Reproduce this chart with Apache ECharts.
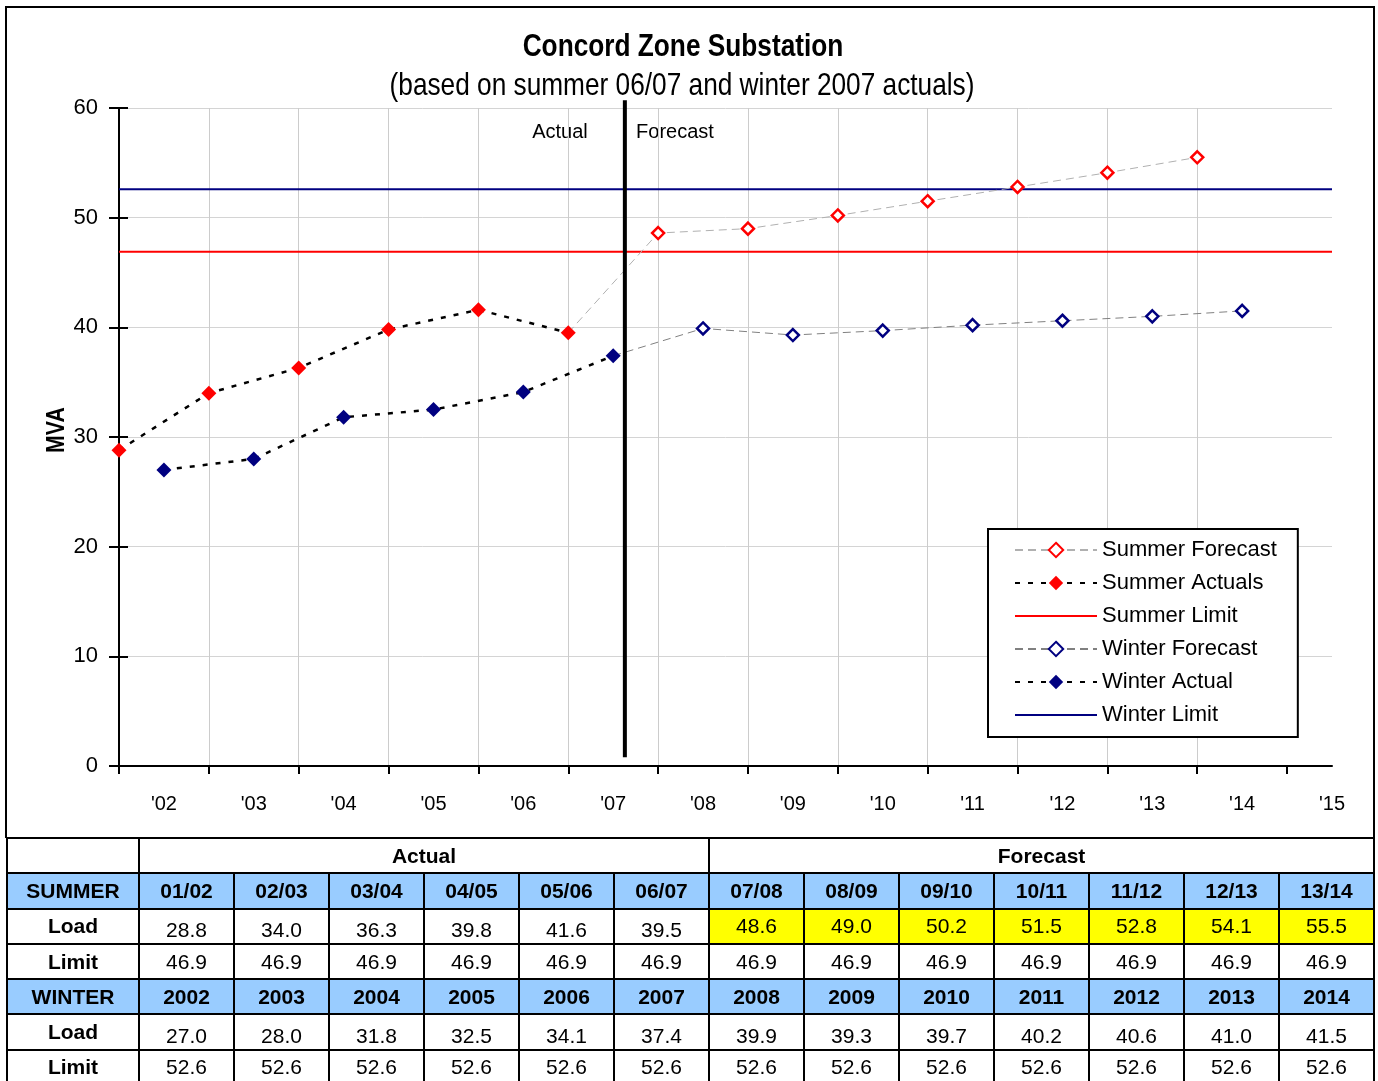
<!DOCTYPE html>
<html><head><meta charset="utf-8">
<script src="https://cdn.jsdelivr.net/npm/echarts@6/dist/echarts.min.js"></script>
<style>
html,body{margin:0;padding:0;width:1378px;height:1081px;overflow:hidden;background:#fff;}
#chart{position:absolute;left:0;top:0;width:1378px;height:838px;}
#tbl{position:absolute;left:6px;top:837px;border-collapse:collapse;table-layout:fixed;width:1369px;font-family:'Liberation Sans',Arial,sans-serif;font-size:21px;color:#000;}
#tbl td{border:2px solid #000;padding:0;text-align:center;height:33.3px;white-space:nowrap;}
#tbl td.b{font-weight:bold;}
#tbl td.hdr{background:#99CCFF;}
#tbl td.yel{background:#FFFF00;}
#tbl span.low{position:relative;top:4px;}
</style></head><body>
<div id="chart"></div>
<table id="tbl"></table>
<script>
const SANS = "'Liberation Sans',Arial,sans-serif";
const NARROW_SCALE = 0.82;

// ---- data ----
const chartTitle = 'Concord Zone Substation';
const chartSubtitle = '(based on summer 06/07 and winter 2007 actuals)';
const summerSeasons = ['01/02','02/03','03/04','04/05','05/06','06/07','07/08','08/09','09/10','10/11','11/12','12/13','13/14'];
const summerLoad = [28.8,34.0,36.3,39.8,41.6,39.5,48.6,49.0,50.2,51.5,52.8,54.1,55.5];
const summerLimit = [46.9,46.9,46.9,46.9,46.9,46.9,46.9,46.9,46.9,46.9,46.9,46.9,46.9];
const winterYears = [2002,2003,2004,2005,2006,2007,2008,2009,2010,2011,2012,2013,2014];
const winterLoad = [27.0,28.0,31.8,32.5,34.1,37.4,39.9,39.3,39.7,40.2,40.6,41.0,41.5];
const winterLimit = [52.6,52.6,52.6,52.6,52.6,52.6,52.6,52.6,52.6,52.6,52.6,52.6,52.6];
const actualCount = 6;
const xTickYears = [2002,2003,2004,2005,2006,2007,2008,2009,2010,2011,2012,2013,2014,2015];
const xTickLabels = ["'02","'03","'04","'05","'06","'07","'08","'09","'10","'11","'12","'13","'14","'15"];
const yTicks = [0,10,20,30,40,50,60];
const dividerX = [2007.13, 2007.13];
const dividerY = [0.8, 60.7];

// season '01/02' sits on the boundary between 2001 and 2002
const summerX = summerSeasons.map(s => 2000 + parseInt(s.slice(0,2),10) + 0.5);
const xMin = summerX[0];
const xMax = xTickYears[xTickYears.length-1];
const tickBounds = summerX.concat([summerX[summerX.length-1] + 1]);

const summerActual = summerX.slice(0, actualCount).map((x,i) => [x, summerLoad[i]]);
const summerForecast = summerX.slice(actualCount-1).map((x,i) => {
  const v = [x, summerLoad[actualCount-1+i]];
  return i === 0 ? {value: v, symbol: 'none'} : v;
});
const winterActual = winterYears.slice(0, actualCount).map((x,i) => [x, winterLoad[i]]);
const winterForecast = winterYears.slice(actualCount-1).map((x,i) => {
  const v = [x, winterLoad[actualCount-1+i]];
  return i === 0 ? {value: v, symbol: 'none'} : v;
});
const summerLimitLine = [[xMin, summerLimit[0]], [xMax, summerLimit[summerLimit.length-1]]];
const winterLimitLine = [[xMin, winterLimit[0]], [xMax, winterLimit[winterLimit.length-1]]];

const chart = echarts.init(document.getElementById('chart'), null, {renderer:'canvas'});
const lineIcon = 'path://M0,0H82V2H0Z';
chart.setOption({
  animation: false,
  legend: {
    orient: 'vertical', left: 988, top: 529,
    itemWidth: 82, itemHeight: 18, itemGap: 11,
    padding: [10, 21, 11, 26],
    borderColor: '#000', borderWidth: 2, backgroundColor: '#fff',
    textStyle: {fontFamily: SANS, fontSize: 22, color: '#000'},
    data: [
      {name: 'Summer Forecast'},
      {name: 'Summer Actuals'},
      {name: 'Summer Limit', icon: lineIcon},
      {name: 'Winter Forecast'},
      {name: 'Winter Actual'},
      {name: 'Winter Limit', icon: lineIcon}
    ]
  },
  grid: {left: 119, right: 46, top: 108, bottom: 72, containLabel: false},
  xAxis: {
    type: 'value', min: xMin, max: xMax,
    axisLine: {show: true, onZero: false, lineStyle: {color: '#000', width: 2}},
    axisTick: {show: true, length: 8, lineStyle: {color: '#000', width: 2}, customValues: tickBounds},
    axisLabel: {
      customValues: xTickYears, margin: 28,
      fontFamily: SANS, fontSize: 20, color: '#000',
      formatter: v => xTickLabels[xTickYears.indexOf(Math.round(v))] || ''
    },
    splitLine: {show: true, showMinLine: false, showMaxLine: false, lineStyle: {color: '#cccccc', width: 1}}
  },
  yAxis: [{
    type: 'value', min: yTicks[0], max: yTicks[yTicks.length-1], interval: 10, position: 'left',
    axisLine: {show: true, onZero: false, lineStyle: {color: '#000', width: 2}},
    axisTick: {show: true, length: 10, lineStyle: {color: '#000', width: 2}},
    axisLabel: {margin: 21, fontFamily: SANS, fontSize: 22, color: '#000'},
    splitLine: {show: true, lineStyle: {color: '#d4d4d4', width: 1}}
  }, {
    type: 'value', min: yTicks[0], max: yTicks[yTicks.length-1], interval: 10, position: 'left',
    axisLine: {show: false},
    axisTick: {show: true, inside: true, length: 9, lineStyle: {color: '#000', width: 2}},
    axisLabel: {show: false},
    splitLine: {show: false}
  }],
  graphic: [
    {type: 'rect', shape: {x: 6, y: 7, width: 1368, height: 831}, style: {fill: 'none', stroke: '#000', lineWidth: 2}, silent: true, z: 100},
    {type: 'text', x: 683, y: 47, scaleX: NARROW_SCALE, style: {text: chartTitle, font: 'bold 32px ' + SANS, fill: '#000', align: 'center', verticalAlign: 'middle'}, silent: true},
    {type: 'text', x: 682, y: 86, scaleX: NARROW_SCALE, style: {text: chartSubtitle, font: '32px ' + SANS, fill: '#000', align: 'center', verticalAlign: 'middle'}, silent: true},
    {type: 'text', x: 560, y: 132, style: {text: 'Actual', font: '20px ' + SANS, fill: '#000', align: 'center', verticalAlign: 'middle'}, silent: true},
    {type: 'text', x: 675, y: 132, style: {text: 'Forecast', font: '20px ' + SANS, fill: '#000', align: 'center', verticalAlign: 'middle'}, silent: true},
    {type: 'text', x: 57, y: 430, rotation: Math.PI/2, scaleX: NARROW_SCALE, style: {text: 'MVA', font: 'bold 26px ' + SANS, fill: '#000', align: 'center', verticalAlign: 'middle'}, silent: true}
  ],
  series: [
    {
      name: 'Summer Forecast', type: 'line', data: summerForecast, z: 3,
      symbol: 'diamond', symbolSize: 12,
      itemStyle: {color: '#ffffff', borderColor: '#ff0000', borderWidth: 2.5},
      lineStyle: {color: '#b0b0b0', width: 1, type: [8, 5]}
    },
    {
      name: 'Summer Actuals', type: 'line', data: summerActual, z: 4,
      symbol: 'diamond', symbolSize: 15,
      itemStyle: {color: '#ff0000'},
      lineStyle: {color: '#000', width: 2.5, type: [5, 8]}
    },
    {
      name: 'Summer Limit', type: 'line', data: summerLimitLine, z: 2,
      symbol: 'none', itemStyle: {color: '#ff0000'},
      lineStyle: {color: '#ff0000', width: 2}
    },
    {
      name: 'Winter Forecast', type: 'line', data: winterForecast, z: 3,
      symbol: 'diamond', symbolSize: 12,
      itemStyle: {color: '#ffffff', borderColor: '#000080', borderWidth: 2.5},
      lineStyle: {color: '#808080', width: 1, type: [8, 5]}
    },
    {
      name: 'Winter Actual', type: 'line', data: winterActual, z: 4,
      symbol: 'diamond', symbolSize: 15,
      itemStyle: {color: '#000080'},
      lineStyle: {color: '#000', width: 2.5, type: [5, 8]}
    },
    {
      name: 'Winter Limit', type: 'line', data: winterLimitLine, z: 2,
      symbol: 'none', itemStyle: {color: '#000080'},
      lineStyle: {color: '#000080', width: 2}
    },
    {
      name: 'divider', type: 'line', data: dividerX.map((x,i) => [x, dividerY[i]]), z: 6,
      symbol: 'none', clip: false, silent: true,
      lineStyle: {color: '#000', width: 4}
    }
  ]
});

// ---- table ----
const tbl = document.getElementById('tbl');
let html = '<colgroup><col style="width:132px">' + summerSeasons.map(() => '<col style="width:95px">').join('') + '</colgroup>';
html += '<tr><td></td><td class="b" colspan="' + actualCount + '">Actual</td><td class="b" colspan="' + (summerSeasons.length - actualCount) + '">Forecast</td></tr>';
html += '<tr><td class="b hdr">SUMMER</td>' + summerSeasons.map(s => '<td class="b hdr">' + s + '</td>').join('') + '</tr>';
html += '<tr><td class="b">Load</td>' + summerLoad.map((v,i) => i < actualCount ? '<td><span class="low">' + v.toFixed(1) + '</span></td>' : '<td class="yel">' + v.toFixed(1) + '</td>').join('') + '</tr>';
html += '<tr><td class="b">Limit</td>' + summerLimit.map(v => '<td>' + v.toFixed(1) + '</td>').join('') + '</tr>';
html += '<tr><td class="b hdr">WINTER</td>' + winterYears.map(y => '<td class="b hdr">' + y + '</td>').join('') + '</tr>';
html += '<tr><td class="b">Load</td>' + winterLoad.map(v => '<td><span class="low">' + v.toFixed(1) + '</span></td>').join('') + '</tr>';
html += '<tr><td class="b">Limit</td>' + winterLimit.map(v => '<td>' + v.toFixed(1) + '</td>').join('') + '</tr>';
tbl.innerHTML = html;
</script>
</body></html>
